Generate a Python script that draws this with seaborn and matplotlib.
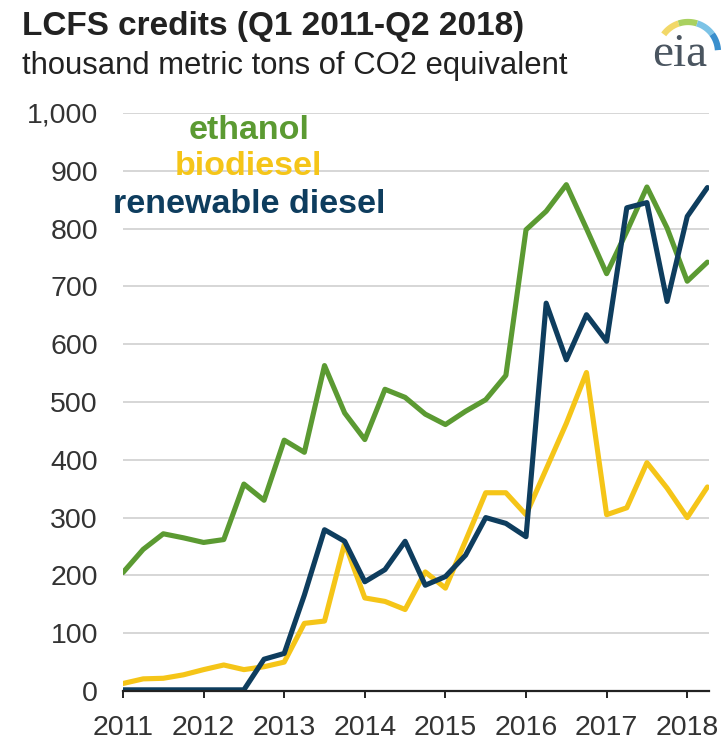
import matplotlib
matplotlib.use("Agg")
import matplotlib.pyplot as plt
import numpy as np
import pandas as pd
import seaborn as sns
from matplotlib.ticker import FuncFormatter

# Quarterly LCFS credits, Q1 2011 - Q2 2018 (thousand metric tons CO2e)
quarters = pd.period_range("2011Q1", "2018Q2", freq="Q")

ethanol = [205, 245, 272, 265, 257, 262, 358, 330, 434, 413, 563, 481, 435,
           522, 508, 479, 461, 484, 504, 546, 798, 830, 876, 800, 722, 795,
           872, 801, 709, 742]
biodiesel = [13, 21, 22, 28, 37, 45, 37, 42, 50, 117, 121, 256, 161, 155,
             141, 206, 178, 260, 343, 343, 305, 384, 463, 551, 305, 317,
             395, 351, 300, 353]
renewable_diesel = [2, 2, 2, 2, 2, 2, 2, 55, 65, 166, 279, 259, 189, 210,
                    259, 183, 198, 235, 300, 290, 267, 671, 573, 651, 605,
                    836, 845, 674, 821, 871]

series_names = ["ethanol", "biodiesel", "renewable diesel"]
series_colors = ["#5B9A32", "#F5C518", "#0E3D5E"]

decimal_year = quarters.year + (quarters.quarter - 1) / 4.0
df = pd.DataFrame({
    "year": np.tile(decimal_year, 3),
    "credits": ethanol + biodiesel + renewable_diesel,
    "fuel": np.repeat(series_names, len(quarters)),
})

sns.set_theme(style="white")
plt.rcParams["font.family"] = ["Liberation Sans", "DejaVu Sans"]

fig = plt.figure(figsize=(7.25, 7.49), dpi=100)
ax = fig.add_axes([123 / 725, 58 / 749, 586 / 725, 578 / 749])

sns.lineplot(data=df, x="year", y="credits", hue="fuel",
             hue_order=series_names, palette=series_colors,
             linewidth=3.7, legend=False, ax=ax, zorder=3)

ax.set_xlim(2011, 2018.27)
ax.set_ylim(0, 1000)
ax.set_yticks(np.arange(0, 1001, 100))
ax.set_xticks(np.arange(2011, 2019))
ax.yaxis.set_major_formatter(FuncFormatter(lambda v, p: f"{v:,.0f}"))
ax.xaxis.set_major_formatter(FuncFormatter(lambda v, p: f"{v:.0f}"))
ax.set_xlabel("")
ax.set_ylabel("")

ax.grid(axis="y", color="#d6d6d6", linewidth=1.4, zorder=0)
ax.grid(axis="x", visible=False)
for side in ["top", "right", "left"]:
    ax.spines[side].set_visible(False)
ax.spines["bottom"].set_color("#222222")
ax.spines["bottom"].set_linewidth(1.6)
ax.spines["bottom"].set_zorder(4)

ax.tick_params(axis="y", length=0, pad=18, labelsize=20.5, labelcolor="#333333")
ax.tick_params(axis="x", length=5, width=1.4, color="#222222", direction="out",
               pad=12, labelsize=20.5, labelcolor="#333333", bottom=True)

# in-plot series labels
label_y = [970, 908, 842]
for name, color, y in zip(series_names, series_colors, label_y):
    ax.text(2012.56, y, name, color=color, fontsize=24.5, fontweight="bold",
            ha="center", va="center")

fig.text(22 / 725, 1 - 27 / 749, "LCFS credits (Q1 2011-Q2 2018)",
         fontsize=24, fontweight="bold", color="#222222", va="center")
fig.text(22 / 725, 1 - 66 / 749, "thousand metric tons of CO2 equivalent",
         fontsize=22.3, color="#222222", va="center")

# eia logo
fig.text(680 / 725, 1 - 55 / 749, "eia", family=["Liberation Serif", "DejaVu Serif"],
         fontsize=34, color="#4a5560", ha="center", va="center")
theta = np.linspace(np.pi * 0.80, np.pi * 0.02, 48)
cx, cy, r = 688, 52, 30
arc_x = (cx + r * np.cos(theta)) / 725
arc_y = 1 - (cy - r * np.sin(theta)) / 749
arc_cols = ["#f2d868", "#a9d160", "#7cc3e6", "#3a8fcd"]
n = len(theta)
for i, c in enumerate(arc_cols):
    sl = slice(i * n // 4, (i + 1) * n // 4 + 1)
    fig.add_artist(plt.Line2D(arc_x[sl], arc_y[sl], color=c, linewidth=4.5,
                              transform=fig.transFigure, solid_capstyle="butt"))

fig.savefig("out.png", dpi=100, facecolor="white")
